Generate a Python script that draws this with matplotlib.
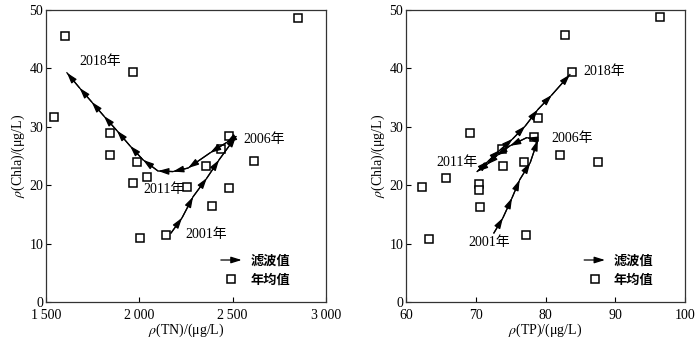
import numpy as np
import matplotlib
matplotlib.use("Agg")
import matplotlib.pyplot as plt
import matplotlib.patches as mpatches
from matplotlib.lines import Line2D
from matplotlib.legend_handler import HandlerPatch

plt.rcParams['font.family'] = ['Liberation Serif', 'Noto Sans CJK SC']
plt.rcParams['mathtext.fontset'] = 'stix'
plt.rcParams['font.size'] = 10

# %% data
years = list(range(2001, 2019))

# annual means (unordered scatter)
tn_mean = [2850, 1600, 1545, 1965, 1845, 1845, 1988, 1966, 2041, 2004,
           2143, 2255, 2388, 2482, 2616, 2482, 2437, 2355]
chla_tn_mean = [48.6, 45.5, 31.6, 39.3, 28.9, 25.2, 24.0, 20.3, 21.3, 11.0,
                11.5, 19.7, 16.4, 19.5, 24.1, 28.3, 26.2, 23.2]

tp_mean = [96.4, 82.8, 83.8, 78.9, 69.2, 78.3, 73.7, 82.1, 87.5, 76.9,
           73.9, 62.3, 65.7, 70.5, 70.5, 70.6, 63.3, 77.2]
chla_tp_mean = [48.7, 45.6, 39.4, 31.5, 28.9, 28.2, 26.1, 25.1, 24.0, 23.9,
                23.2, 19.6, 21.2, 20.2, 19.2, 16.3, 10.7, 11.4]

# filtered trajectories, 2001 -> 2018
tn_filt = [2170, 2229, 2288, 2362, 2427, 2518, 2464, 2379, 2261, 2180,
           2100, 2020, 1950, 1880, 1810, 1745, 1680, 1612]
chla_tn_filt = [11.8, 14.4, 18.0, 21.2, 24.3, 28.3, 27.2, 25.5, 22.9, 22.3,
                22.4, 24.3, 26.7, 29.3, 31.8, 34.2, 36.6, 39.2]

tp_filt = [72.6, 73.9, 75.2, 76.3, 77.8, 78.9, 77.3, 74.9, 73.0, 71.6,
           70.2, 71.8, 73.5, 75.3, 77.1, 78.9, 80.9, 83.5]
chla_tp_filt = [11.8, 14.4, 17.8, 20.9, 23.8, 27.7, 28.1, 26.7, 25.0, 23.5,
                22.3, 24.1, 26.0, 27.9, 30.1, 32.9, 35.4, 38.9]

# year labels: (text, x, y)
tn_labels = [("2018年", 1677, 41.1), ("2006年", 2555, 27.7),
             ("2011年", 2020, 19.3), ("2001年", 2245, 11.5)]
tp_labels = [("2018年", 85.4, 39.4), ("2006年", 80.8, 27.9),
             ("2011年", 64.4, 23.8), ("2001年", 69.0, 10.1)]

tn_ticks = [1500, 2000, 2500, 3000]
tn_ticklabels = ["1\u2009500", "2\u2009000", "2\u2009500", "3\u2009000"]
tp_ticks = [60, 70, 80, 90, 100]
y_ticks = [0, 10, 20, 30, 40, 50]

ASTYLE = '-|>,head_length=0.9,head_width=0.28'


def arrow_handle(legend, orig_handle, xdescent, ydescent, width, height, fontsize):
    return mpatches.FancyArrowPatch((0, 0.5 * height), (width, 0.5 * height),
                                    arrowstyle=ASTYLE, mutation_scale=7)


def draw_panel(ax, xm, ym, xf, yf, labels, xlim, xticks, xticklabels, xlabel, legend_anchor):
    ax.plot(xm, ym, ls='none', marker='s', ms=5.5, mfc='white', mec='k', mew=1.1)
    ax.plot(xf, yf, color='k', lw=0.9)
    for i in range(len(xf) - 1):
        ax.annotate('', xy=(xf[i + 1], yf[i + 1]), xytext=(xf[i], yf[i]),
                    arrowprops=dict(arrowstyle=ASTYLE, color='k', lw=0.9,
                                    mutation_scale=7, shrinkA=0, shrinkB=0))
    for txt, x, y in labels:
        ax.text(x, y, txt, ha='left', va='center', fontsize=10)
    ax.set_xlim(xlim)
    ax.set_ylim(0, 50)
    ax.set_xticks(xticks)
    if xticklabels is not None:
        ax.set_xticklabels(xticklabels)
    ax.set_yticks(y_ticks)
    ax.tick_params(direction='in', length=3.5, width=0.8, labelsize=10)
    ax.tick_params(axis='x', pad=5)
    ax.tick_params(axis='y', pad=2)
    for s in ax.spines.values():
        s.set_linewidth(0.9)
        s.set_color('#333333')
    ax.set_xlabel(xlabel, fontsize=10, labelpad=0)
    ax.set_ylabel(r'$\rho$(Chla)/(μg/L)', fontsize=10, labelpad=2)
    h_arrow = mpatches.Patch(facecolor='k', edgecolor='k', lw=0.9)
    h_sq = Line2D([], [], ls='none', marker='s', ms=5.5, mfc='white', mec='k', mew=1.1)
    ax.legend([h_arrow, h_sq], ['滤波值', '年均值'], loc='lower right',
              bbox_to_anchor=legend_anchor, frameon=False,
              handler_map={mpatches.Patch: HandlerPatch(patch_func=arrow_handle)},
              prop=dict(family=['Noto Sans CJK SC'], weight='bold', size=9.5),
              handlelength=2.0, handletextpad=0.45, labelspacing=0.4, borderpad=0.2)


fig = plt.figure(figsize=(7.0, 3.42), dpi=100)
ax1 = fig.add_axes([0.0657, 0.117, 0.400, 0.855])
ax2 = fig.add_axes([0.580, 0.117, 0.3986, 0.855])

draw_panel(ax1, tn_mean, chla_tn_mean, tn_filt, chla_tn_filt, tn_labels,
           (1500, 3000), tn_ticks, tn_ticklabels, r'$\rho$(TN)/(μg/L)', (0.905, 0.02))
draw_panel(ax2, tp_mean, chla_tp_mean, tp_filt, chla_tp_filt, tp_labels,
           (60, 100), tp_ticks, None, r'$\rho$(TP)/(μg/L)', (0.92, 0.02))

fig.savefig('out.png', dpi=100)
